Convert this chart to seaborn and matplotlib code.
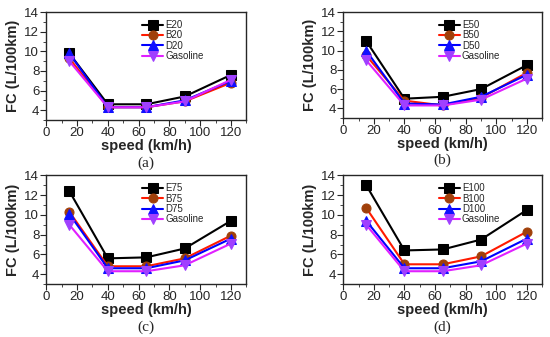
import seaborn as sns
import matplotlib.pyplot as plt
from matplotlib.ticker import MultipleLocator

speed = [15, 40, 65, 90, 120]
fuels = ['E', 'B', 'D', 'Gasoline']
blends = ['20', '50', '75', '100']
panel_tags = ['(a)', '(b)', '(c)', '(d)']

# FC (L/100km) per panel
fc_e = [[9.8, 4.6, 4.6, 5.4, 7.6],
        [11.0, 5.0, 5.2, 6.0, 8.5],
        [12.4, 5.6, 5.7, 6.6, 9.4],
        [13.0, 6.4, 6.5, 7.5, 10.5]]
fc_b = [[9.3, 4.3, 4.3, 4.9, 6.8],
        [9.5, 4.8, 4.3, 5.1, 7.7],
        [10.3, 4.8, 4.8, 5.6, 7.9],
        [10.7, 5.0, 5.0, 5.8, 8.3]]
fc_d = [[9.8, 4.3, 4.3, 5.0, 7.0],
        [10.0, 4.5, 4.4, 5.2, 7.5],
        [10.1, 4.6, 4.6, 5.4, 7.6],
        [9.4, 4.6, 4.6, 5.3, 7.6]]
fc_gas = [9.0, 4.3, 4.3, 4.9, 7.1]

line_colors = ['black', '#ff1a00', '#0000ff', '#e020ff']
marker_colors = ['black', '#a0400a', '#1010ff', '#a040ff']
markers = ['s', 'o', '^', 'v']

sns.set_style('ticks')
plt.rcParams['font.family'] = ['Liberation Sans', 'DejaVu Sans']

fig = plt.figure(figsize=(5.5, 3.37), dpi=100)
positions = [[0.084, 0.644, 0.364, 0.320],
             [0.624, 0.650, 0.362, 0.314],
             [0.084, 0.157, 0.364, 0.323],
             [0.624, 0.157, 0.362, 0.323]]

for p in range(4):
    ax = fig.add_axes(positions[p])
    series = [fc_e[p], fc_b[p], fc_d[p], fc_gas]
    names = ['E' + blends[p], 'B' + blends[p], 'D' + blends[p], 'Gasoline']
    for k in range(4):
        sns.lineplot(x=speed, y=series[k], ax=ax, color=line_colors[k],
                     marker=markers[k], markersize=6.5, markerfacecolor=marker_colors[k],
                     markeredgecolor=marker_colors[k], linewidth=1.5, label=names[k])
    ax.set_xlim(0, 130)
    ax.set_ylim(3, 14)
    ax.xaxis.set_major_locator(MultipleLocator(20))
    ax.xaxis.set_minor_locator(MultipleLocator(10))
    ax.yaxis.set_minor_locator(MultipleLocator(1))
    ax.set_yticks([4, 6, 8, 10, 12, 14])
    ax.tick_params(which='major', length=4, labelsize=9.5, pad=1)
    ax.tick_params(which='minor', length=2)
    for s in ax.spines.values():
        s.set_linewidth(1.0)
    ax.set_xlabel('speed (km/h)', fontsize=10.5, fontweight='bold', labelpad=0)
    ax.set_ylabel('FC (L/100km)', fontsize=10.5, fontweight='bold', labelpad=3)
    ax.legend(loc='upper left', bbox_to_anchor=(0.44, 1.0), frameon=False,
              fontsize=7, handlelength=2.2, labelspacing=0.05, borderpad=0.3,
              handletextpad=0.2)
    ax.text(0.5, -0.40, panel_tags[p], transform=ax.transAxes, ha='center',
            va='center', fontsize=11, family='Liberation Serif')

fig.savefig('out.png', dpi=100)
